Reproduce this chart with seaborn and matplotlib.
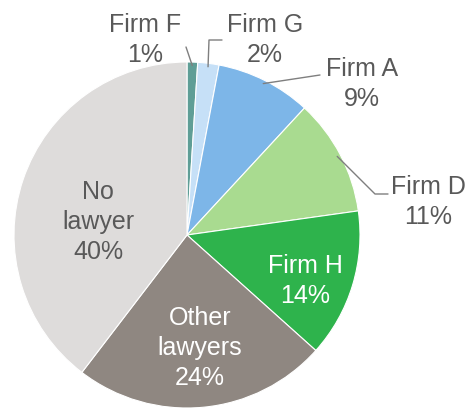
import matplotlib
matplotlib.use("Agg")
import matplotlib.pyplot as plt
import numpy as np
import seaborn as sns

labels = ["Firm F", "Firm G", "Firm A", "Firm D", "Firm H", "Other\nlawyers", "No\nlawyer"]
shares = [1, 2, 9, 11, 14, 24, 40]
colors = ["#5f9e96", "#c6e0f7", "#7db6e8", "#a9db90", "#2eb34c", "#8f8781", "#dedcdb"]

sns.set_theme(style="white")
plt.rcParams["font.family"] = ["Liberation Sans", "DejaVu Sans"]

TXT = "#595959"
W, H = 471, 412
CX, CY, R = 187, 235, 173  # pie centre / radius in pixels


def px(x, y):
    # pixel (from top-left) -> data units, pie radius = 1
    return (x - CX) / R, (CY - y) / R


fig = plt.figure(figsize=(W / 100, H / 100), dpi=100)
ax = fig.add_axes([0, 0, 1, 1])
wedges, _ = ax.pie(shares, colors=colors, startangle=90, counterclock=False,
                   radius=1, wedgeprops=dict(edgecolor="white", linewidth=0.8))
ax.set_xlim(px(0, 0)[0], px(W, 0)[0])
ax.set_ylim(px(0, H)[1], px(0, 0)[1])
ax.set_aspect("equal")
ax.axis("off")

fs = 18
ls = 1.3

# inside labels
inside = {4: ((305, 281), "white"), 5: ((200, 348), "white"), 6: ((98, 222), TXT)}
for i, ((x, y), c) in inside.items():
    ax.text(*px(x, y), f"{labels[i]}\n{shares[i]}%", ha="center", va="center",
            fontsize=fs, color=c, linespacing=ls)

# outside labels with leader lines
outside = {
    0: ((145, 40), [(186, 47)]),
    1: ((265, 40), [(209, 40), (222, 40)]),
    2: ((362, 84), [(320, 75)]),
    3: ((428, 202), [(375, 194), (388, 194)]),
}
for i, ((x, y), path) in outside.items():
    w = wedges[i]
    ang = np.deg2rad((w.theta1 + w.theta2) / 2)
    start = (np.cos(ang) * 0.98, np.sin(ang) * 0.98)
    pts = [start] + [px(a, b) for a, b in path]
    ax.plot([p[0] for p in pts], [p[1] for p in pts], color="#7f7f7f", lw=1)
    ax.text(*px(x, y), f"{labels[i]}\n{shares[i]}%", ha="center", va="center",
            fontsize=fs, color=TXT, linespacing=ls)

fig.savefig("out.png", dpi=100)
